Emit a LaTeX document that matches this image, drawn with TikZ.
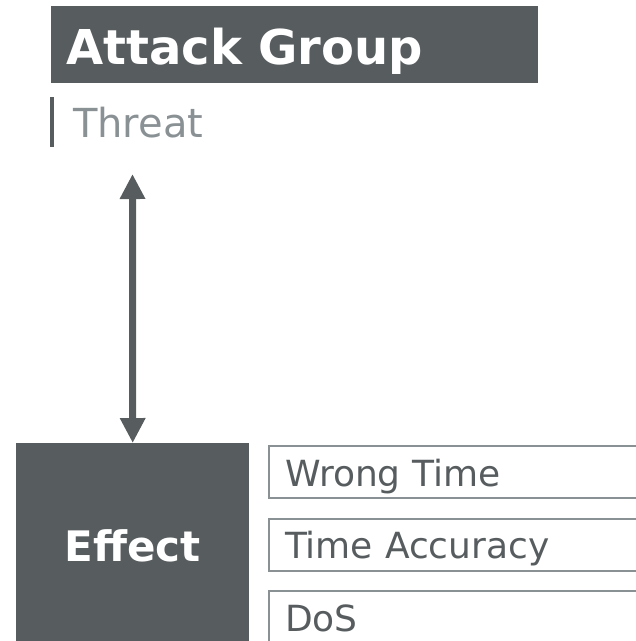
\documentclass[tikz,border=0pt]{standalone}
\usepackage{fontspec}
\setmainfont{DejaVu Sans}
\usepackage{tikz}
\usepackage{xcolor}
\usetikzlibrary{arrows.meta}

\definecolor{slate}{HTML}{575C5F}
\definecolor{mist}{HTML}{8A9195}

\begin{document}
\begin{tikzpicture}[
    x=1pt, y=-1pt,
    headbox/.style={fill=slate, text=white, anchor=north west, inner xsep=15pt, inner ysep=0pt,
        text width=457pt, align=left, text height=58pt, text depth=19pt, font=\fontsize{48}{57}\selectfont\bfseries},
    effectbox/.style={fill=slate, text=white, anchor=north west, inner sep=0pt, text width=233pt,
        align=center, text height=118pt, text depth=130pt, font=\fontsize{42}{50}\selectfont\bfseries},
    itembox/.style={draw=mist, line width=2pt, text=slate, anchor=north west, inner xsep=16pt, inner ysep=0pt,
        text width=418pt, align=left, text height=40pt, text depth=12pt, font=\fontsize{36}{43}\selectfont},
    biarrow/.style={{Triangle[width=24pt,length=25pt]}-{Triangle[width=24pt,length=25pt]}, line width=7pt, draw=slate}
]
\useasboundingbox (0,0) rectangle (636,641);
\clip (0,0) rectangle (636,641);

% Attack group
\node[headbox] (group) at (51,6) {Attack Group};

% Threat
\node[anchor=north west, inner xsep=21pt, inner ysep=0pt, text height=40pt, text depth=10pt,
    text=mist, font=\fontsize{40}{48}\selectfont] (threat) at (52,97) {Threat};
\draw[slate, line width=3.5pt] (threat.north west) -- (threat.south west);

% Effect
\node[effectbox] (effect) at (16,443) {Effect};

% Effect items
\node[itembox] (wrong) at (268,445) {Wrong Time};
\node[itembox] (accuracy) at (268,517.5) {Time Accuracy};
\node[itembox] (dos) at (268,590) {DoS};

% Arrow
\coordinate (threattip) at (132.5,174);
\draw[biarrow] (threattip) -- (effect.north);

\end{tikzpicture}
\end{document}
